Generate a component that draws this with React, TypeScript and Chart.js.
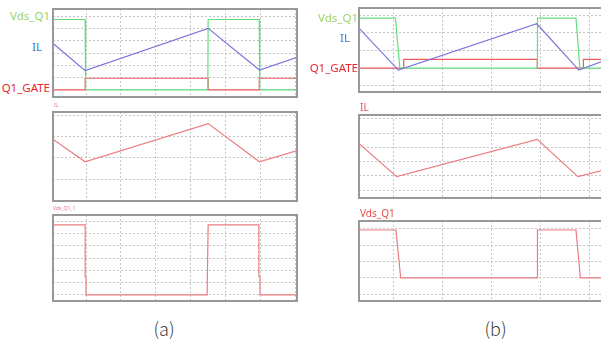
import React, { useEffect, useRef } from "react";
import { Chart, registerables } from "chart.js";

Chart.register(...registerables);

// ---------- (a) waveforms: time in grid divisions ----------
const aGateTime = [0.05, 0.975, 0.975, 4.5, 4.5, 5.965, 5.965, 7.05];
const aGateLevel = [1.0, 1.0, 1.95, 1.95, 1.0, 1.0, 1.95, 1.95];
const aVdsTime = [0.05, 0.975, 0.975, 0.995, 0.995, 4.49, 4.5, 5.965, 5.965, 5.985, 5.985, 7.05];
const aVdsLevel = [6.72, 6.72, 1.95, 1.95, 1.0, 1.0, 6.72, 6.72, 1.95, 1.95, 1.0, 1.0];
const aIlTime = [0.05, 0.975, 4.5, 5.97, 7.05];
const aIlLevel = [4.79, 2.57, 6.0, 2.62, 3.65];
const aIlPanelLevel = [2.87, 1.82, 3.6, 1.82, 2.34];
const aVdsPanelTime = [0.05, 0.975, 0.975, 1.0, 1.0, 4.47, 4.5, 5.955, 5.955, 5.985, 5.985, 7.05];
const aVdsPanelLevel = [5.73, 5.73, 1.45, 1.45, -0.05, -0.05, 5.73, 5.73, 1.45, 1.45, -0.05, -0.05];

// ---------- (b) waveforms ----------
const bGateTime = [0.29, 1.21, 1.21, 3.93, 3.93, 4.87, 4.87, 5.24];
const bGateLevel = [1.0, 1.0, 1.5, 1.5, 1.0, 1.0, 1.5, 1.5];
const bVdsTime = [0.29, 1.04, 1.13, 3.93, 3.935, 4.72, 4.8, 5.24];
const bVdsLevel = [3.83, 3.83, 1.0, 1.0, 3.83, 3.83, 1.0, 1.0];
const bIlTime = [0.29, 1.1, 3.92, 4.78, 5.24];
const bIlLevel = [3.28, 0.89, 3.51, 0.89, 1.37];
const bIlPanelTime = [0.29, 1.065, 3.93, 4.76, 5.24];
const bIlPanelLevel = [3.3, 0.94, 3.57, 0.94, 1.35];
const bVdsPanelTime = [0.29, 1.05, 1.147, 3.93, 3.935, 4.72, 4.81, 5.24];
const bVdsPanelLevel = [3.92, 3.92, 1.0, 1.0, 3.92, 3.92, 1.0, 1.0];

// ---------- grid divisions ----------
const aTimeGrid = [1, 2, 3, 4, 5, 6, 7];
const aTopGrid = [1, 2, 3, 4, 5, 6, 7];
const aIlGrid = [1, 2, 3, 4];
const aVdsGrid = [0, 1, 2, 3, 4, 5, 6];
const bTimeGrid = [1, 2, 3, 4, 5];
const bTopGrid = [0, 1, 2, 3, 4];
const bIlGrid = [0, 1, 2, 3, 4, 5];
const bVdsGrid = [0, 1, 2, 3, 4];

const GREEN = "#62de7c";
const BLUE = "#7a76da";
const RED = "#ea5b60";
const PINK = "#ec7c80";

type Trace = { t: number[]; v: number[]; color: string; width?: number };
type PanelProps = {
  box: [number, number, number, number];
  x: [number, number];
  y: [number, number];
  xGrid: number[];
  yGrid: number[];
  traces: Trace[];
  sides: string;
};

function Panel({ box, x, y, xGrid, yGrid, traces, sides }: PanelProps) {
  const ref = useRef<HTMLCanvasElement>(null);
  const pad = 2;
  const [l, t, r, b] = box;
  const w = r - l + pad * 2;
  const h = b - t + pad * 2;
  useEffect(() => {
    const frame = {
      id: "frame",
      afterDraw(chart: any) {
        const { ctx, chartArea: a } = chart;
        ctx.save();
        ctx.strokeStyle = "#999999";
        ctx.lineWidth = 2;
        ctx.beginPath();
        if (sides.includes("t")) { ctx.moveTo(a.left - 1, a.top); ctx.lineTo(a.right + 1, a.top); }
        if (sides.includes("b")) { ctx.moveTo(a.left - 1, a.bottom); ctx.lineTo(a.right + 1, a.bottom); }
        if (sides.includes("l")) { ctx.moveTo(a.left, a.top); ctx.lineTo(a.left, a.bottom); }
        if (sides.includes("r")) { ctx.moveTo(a.right, a.top); ctx.lineTo(a.right, a.bottom); }
        ctx.stroke();
        ctx.restore();
      },
    };
    const gridAxis = (min: number, max: number, grid: number[], horizontal: boolean) => ({
      type: "linear" as const,
      min,
      max,
      afterBuildTicks: (s: any) => {
        s.ticks = grid.map((v) => ({ value: v }));
      },
      ticks: { display: false },
      grid: { color: horizontal ? "#c9c9c9" : "#c4c4c4", lineWidth: 1, drawTicks: false },
      border: { display: false, dash: [2, 2] },
      afterFit: (s: any) => {
        if (horizontal) s.height = 0;
        else s.width = 0;
      },
    });
    const chart = new Chart(ref.current!, {
      type: "line",
      data: {
        datasets: traces.map((tr) => ({
          data: tr.t.map((tt, i) => ({ x: tt, y: tr.v[i] })),
          borderColor: tr.color,
          borderWidth: tr.width ?? 1.2,
          pointRadius: 0,
          tension: 0,
          fill: false,
        })),
      },
      options: {
        responsive: false,
        maintainAspectRatio: false,
        animation: false,
        events: [],
        layout: { padding: pad },
        plugins: { legend: { display: false }, tooltip: { enabled: false } },
        scales: {
          x: gridAxis(x[0], x[1], xGrid, true),
          y: gridAxis(y[0], y[1], yGrid, false),
        },
      },
      plugins: [frame],
    } as any);
    return () => chart.destroy();
  }, []);
  return (
    <canvas
      ref={ref}
      width={w}
      height={h}
      style={{ position: "absolute", left: l - pad, top: t - pad, width: w, height: h }}
    />
  );
}

type LabelProps = { text: string; x: number; y: number; size: number; color: string; align?: "left" | "right" | "center"; font?: string; weight?: number };

function Label({ text, x, y, size, color, align = "left", font = "'Noto Sans', sans-serif", weight = 400 }: LabelProps) {
  const tx = align === "right" ? "-100%" : align === "center" ? "-50%" : "0";
  return (
    <div
      style={{
        position: "absolute",
        left: x,
        top: y,
        transform: `translate(${tx}, -50%)`,
        fontFamily: font,
        fontSize: size,
        fontWeight: weight,
        lineHeight: 1,
        color,
        whiteSpace: "nowrap",
      }}
    >
      {text}
    </div>
  );
}

export default function App() {
  return (
    <div style={{ position: "fixed", left: 0, top: 0, width: 601, height: 352, background: "#fff", overflow: "hidden" }}>
      {/* (a) */}
      <Panel
        box={[53, 9, 297, 97]}
        x={[0.054, 7.046]}
        y={[0.43, 7.57]}
        xGrid={aTimeGrid}
        yGrid={aTopGrid}
        sides="tlbr"
        traces={[
          { t: aIlTime, v: aIlLevel, color: BLUE },
          { t: aVdsTime, v: aVdsLevel, color: GREEN },
          { t: aGateTime, v: aGateLevel, color: RED },
        ]}
      />
      <Panel
        box={[53, 112, 297, 201]}
        x={[0.054, 7.046]}
        y={[-0.01, 4.14]}
        xGrid={aTimeGrid}
        yGrid={aIlGrid}
        sides="tlbr"
        traces={[{ t: aIlTime, v: aIlPanelLevel, color: PINK }]}
      />
      <Panel
        box={[53, 215, 297, 301]}
        x={[0.054, 7.046]}
        y={[-0.55, 6.55]}
        xGrid={aTimeGrid}
        yGrid={aVdsGrid}
        sides="tlbr"
        traces={[{ t: aVdsPanelTime, v: aVdsPanelLevel, color: PINK }]}
      />
      {/* (b) */}
      <Panel
        box={[359, 8, 601, 92]}
        x={[0.297, 5.23]}
        y={[-0.35, 4.4]}
        xGrid={bTimeGrid}
        yGrid={bTopGrid}
        sides="tlb"
        traces={[
          { t: bIlTime, v: bIlLevel, color: BLUE },
          { t: bVdsTime, v: bVdsLevel, color: GREEN },
          { t: bGateTime, v: bGateLevel, color: RED },
        ]}
      />
      <Panel
        box={[359, 115, 601, 198]}
        x={[0.297, 5.23]}
        y={[-0.56, 5.28]}
        xGrid={bTimeGrid}
        yGrid={bIlGrid}
        sides="tlb"
        traces={[{ t: bIlPanelTime, v: bIlPanelLevel, color: PINK }]}
      />
      <Panel
        box={[359, 221, 601, 301]}
        x={[0.297, 5.23]}
        y={[-0.41, 4.47]}
        xGrid={bTimeGrid}
        yGrid={bVdsGrid}
        sides="tlb"
        traces={[{ t: bVdsPanelTime, v: bVdsPanelLevel, color: PINK }]}
      />

      {/* signal names */}
      <Label text="Vds_Q1" x={50} y={16} size={11.5} color="#9cd36a" align="right" />
      <Label text="IL" x={42} y={47} size={11.5} color="#2f80d1" align="right" />
      <Label text="Q1_GATE" x={50} y={88} size={11.5} color="#e8262c" align="right" />
      <Label text="Vds_Q1" x={358} y={17.5} size={11.5} color="#9cd36a" align="right" />
      <Label text="IL" x={350} y={37.5} size={11.5} color="#2f80d1" align="right" />
      <Label text="Q1_GATE" x={358} y={68} size={11.5} color="#e8262c" align="right" />

      <Label text="IL" x={54} y={105} size={5} color="#e57a7e" />
      <Label text="Vds_Q1_1" x={53} y={208} size={5} color="#e57a7e" />
      <Label text="IL" x={360} y={106.5} size={10} color="#e84a50" />
      <Label text="Vds_Q1" x={360} y={212.5} size={10} color="#e84a50" />

      <Label text="(a)" x={164} y={328} size={18} color="#3a3a3a" align="center" font="'Noto Sans CJK SC', 'Noto Sans', sans-serif" weight={300} />
      <Label text="(b)" x={495.5} y={328} size={18} color="#3a3a3a" align="center" font="'Noto Sans CJK SC', 'Noto Sans', sans-serif" weight={300} />
    </div>
  );
}
